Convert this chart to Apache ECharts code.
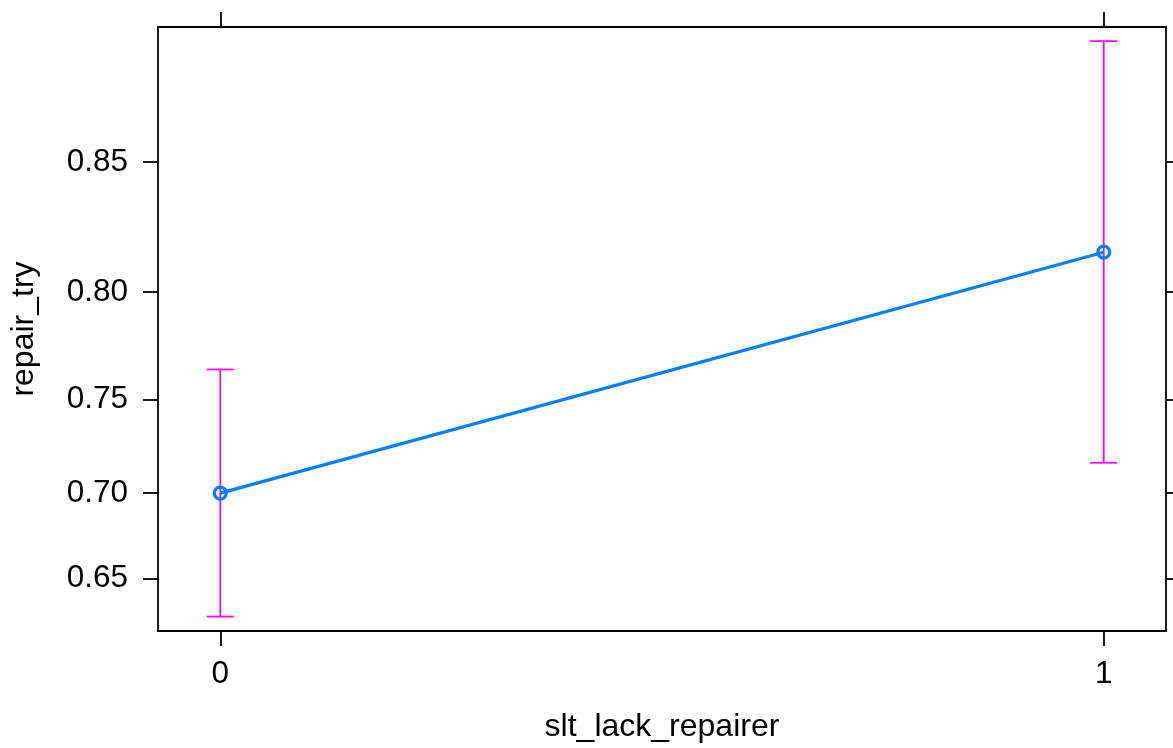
<!DOCTYPE html>
<html>
<head>
<meta charset="utf-8">
<script src="https://cdn.jsdelivr.net/npm/echarts@6/dist/echarts.min.js"></script>
<style>
html,body{margin:0;padding:0;background:#fff;}
#chart{width:1173px;height:748px;}
</style>
</head>
<body>
<div id="chart"></div>
<script>
// Data (probabilities, y axis on a logit scale)
const categories = [0, 1];
const fitValues = [0.700, 0.8165];
const lowerValues = [0.6263, 0.7168];
const upperValues = [0.7647, 0.8868];
const yTickLabels = [0.65, 0.70, 0.75, 0.80, 0.85];
const xTickLabels = [0, 1];

const logit = p => Math.log(p / (1 - p));
const invLogit = v => 1 / (1 + Math.exp(-v));

const FONT = '"Liberation Sans", Arial, sans-serif';
const FS = 31.5;
const FS_NAME = 32;

const yTickVals = yTickLabels.map(logit);
const yMin = 0.4778, yMax = 2.0963;
const xMin = -0.0705, xMax = 1.0705;

const lineData = categories.map((c, i) => [c, logit(fitValues[i])]);
const errData = categories.map((c, i) => [c, logit(lowerValues[i]), logit(upperValues[i])]);

const chart = echarts.init(document.getElementById('chart'));
const axisLine = {show: true, onZero: false, lineStyle: {color: '#000', width: 1.8}};
const tick = (vals) => ({show: true, inside: false, length: 15, customValues: vals, lineStyle: {color: '#000', width: 1.8}});

chart.setOption({
  animation: false,
  backgroundColor: '#fff',
  grid: {left: 157, right: 7, top: 27, bottom: 117, containLabel: false},
  xAxis: [{
    type: 'value', min: xMin, max: xMax, position: 'bottom',
    axisLine: axisLine, splitLine: {show: false},
    axisTick: tick(xTickLabels),
    axisLabel: {show: true, customValues: xTickLabels, margin: 28, fontSize: FS, fontFamily: FONT, color: '#000', lineHeight: FS,
      formatter: v => String(Math.round(v))},
    name: 'slt_lack_repairer', nameLocation: 'middle', nameGap: 80,
    nameTextStyle: {fontSize: FS_NAME, fontFamily: FONT, color: '#000', lineHeight: FS_NAME}
  }, {
    type: 'value', min: xMin, max: xMax, position: 'top',
    axisLine: axisLine, splitLine: {show: false},
    axisTick: tick(xTickLabels),
    axisLabel: {show: false}
  }],
  yAxis: [{
    type: 'value', min: yMin, max: yMax, position: 'left',
    axisLine: axisLine, splitLine: {show: false},
    axisTick: tick(yTickVals),
    axisLabel: {show: true, customValues: yTickVals, margin: 30, fontSize: FS, fontFamily: FONT, color: '#000',
      formatter: v => invLogit(v).toFixed(2)},
    name: 'repair_try', nameLocation: 'middle', nameGap: 118,
    nameTextStyle: {fontSize: FS_NAME, fontFamily: FONT, color: '#000', lineHeight: FS_NAME}
  }, {
    type: 'value', min: yMin, max: yMax, position: 'right',
    axisLine: axisLine, splitLine: {show: false},
    axisTick: tick(yTickVals),
    axisLabel: {show: false}
  }],
  series: [{
    type: 'custom',
    xAxisIndex: 0, yAxisIndex: 0,
    clip: false, z: 2,
    data: errData,
    renderItem: function (params, api) {
      const x = api.value(0);
      const lo = api.coord([x, api.value(1)]);
      const hi = api.coord([x, api.value(2)]);
      const w = 13.5;
      const style = {stroke: '#ff00ff', lineWidth: 1.8};
      return {type: 'group', children: [
        {type: 'line', shape: {x1: lo[0], y1: lo[1], x2: hi[0], y2: hi[1]}, style: style},
        {type: 'line', shape: {x1: lo[0] - w, y1: lo[1], x2: lo[0] + w, y2: lo[1]}, style: style},
        {type: 'line', shape: {x1: hi[0] - w, y1: hi[1], x2: hi[0] + w, y2: hi[1]}, style: style}
      ]};
    }
  }, {
    type: 'line',
    xAxisIndex: 0, yAxisIndex: 0, z: 3,
    data: lineData,
    symbol: 'circle', symbolSize: 12,
    lineStyle: {color: '#0080ff', width: 3.2},
    itemStyle: {color: 'rgba(255,255,255,0)', borderColor: '#0080ff', borderWidth: 3.2}
  }]
});
</script>
</body>
</html>
